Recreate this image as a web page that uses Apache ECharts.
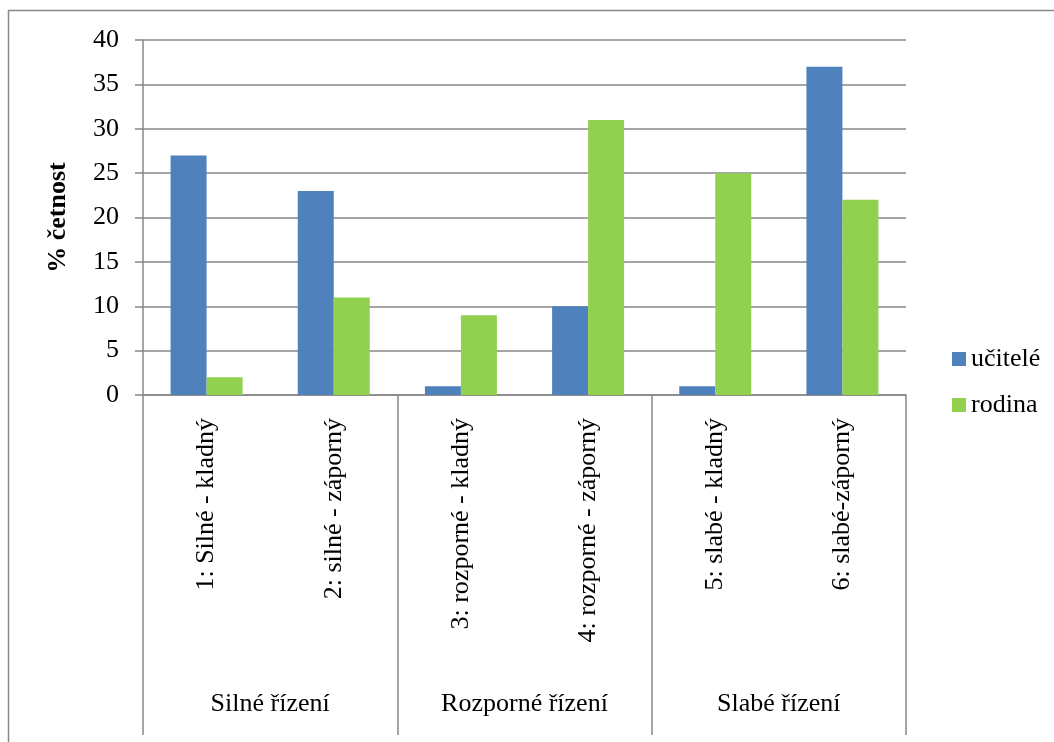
<!DOCTYPE html>
<html>
<head>
<meta charset="utf-8">
<script src="https://cdn.jsdelivr.net/npm/echarts@6/dist/echarts.min.js"></script>
<style>
  html, body { margin: 0; padding: 0; background: #fff; }
  #chart { width: 1054px; height: 742px; }
</style>
</head>
<body>
<div id="chart"></div>
<script>
// Leadership styles (inner level) and their groups (outer level)
const categories = [
  '1: Silné - kladný',
  '2: silné - záporný',
  '3: rozporné - kladný',
  '4: rozporné - záporný',
  '5: slabé - kladný',
  '6: slabé-záporný'
];
const groups = ['Silné řízení', 'Rozporné řízení', 'Slabé řízení'];

// Percent frequency per respondent group
const ucitele = [27, 23, 1, 10, 1, 37];
const rodina = [2, 11, 9, 31, 25, 22];

const yTicks = { min: 0, max: 40, interval: 5 };

const FONT = 'Liberation Serif';
const GRAY = '#878787';

const chart = echarts.init(document.getElementById('chart'), null, { renderer: 'canvas' });

chart.setOption({
  backgroundColor: '#ffffff',
  animation: false,
  textStyle: { fontFamily: FONT, color: '#000' },
  graphic: [{
    type: 'rect',
    shape: { x: 8.5, y: 10.5, width: 1100, height: 800 },
    style: { fill: 'none', stroke: GRAY, lineWidth: 1.5 },
    silent: true
  }],
  grid: { left: 143, right: 148, top: 40, bottom: 347, containLabel: false },
  legend: {
    orient: 'vertical',
    left: 947,
    top: 341,
    itemWidth: 14,
    itemHeight: 14,
    itemGap: 20,
    icon: 'rect',
    textStyle: { fontFamily: FONT, fontSize: 26, color: '#000', lineHeight: 26 },
    data: ['učitelé', 'rodina']
  },
  xAxis: [{
    type: 'category',
    data: categories,
    position: 'bottom',
    axisLine: { show: true, lineStyle: { color: GRAY, width: 1.5 } },
    axisTick: { show: false },
    axisLabel: {
      interval: 0,
      rotate: 90,
      margin: 23,
      fontFamily: FONT,
      fontSize: 26,
      color: '#000'
    }
  }, {
    type: 'category',
    data: groups,
    position: 'bottom',
    axisLine: { show: false },
    axisTick: { show: true, length: 340, lineStyle: { color: GRAY, width: 1.5 } },
    axisLabel: {
      interval: 0,
      margin: 296,
      fontFamily: FONT,
      fontSize: 26,
      lineHeight: 26,
      color: '#000'
    }
  }],
  yAxis: {
    type: 'value',
    min: yTicks.min,
    max: yTicks.max,
    interval: yTicks.interval,
    name: '% četnost',
    nameLocation: 'middle',
    nameGap: 72,
    nameRotate: 90,
    nameTextStyle: { fontFamily: FONT, fontSize: 26, fontWeight: 'bold', color: '#000' },
    axisLine: { show: true, lineStyle: { color: GRAY, width: 1.5 } },
    axisTick: { show: true, length: 8, lineStyle: { color: GRAY, width: 1.5 } },
    axisLabel: { margin: 24, fontFamily: FONT, fontSize: 26, color: '#000' },
    splitLine: { show: true, lineStyle: { color: GRAY, width: 1.5 } }
  },
  series: [{
    name: 'učitelé',
    type: 'bar',
    data: ucitele,
    barWidth: 36,
    barGap: '0%',
    itemStyle: { color: '#4F81BD' }
  }, {
    name: 'rodina',
    type: 'bar',
    data: rodina,
    barWidth: 36,
    barGap: '0%',
    itemStyle: { color: '#92D050' }
  }]
});
</script>
</body>
</html>
